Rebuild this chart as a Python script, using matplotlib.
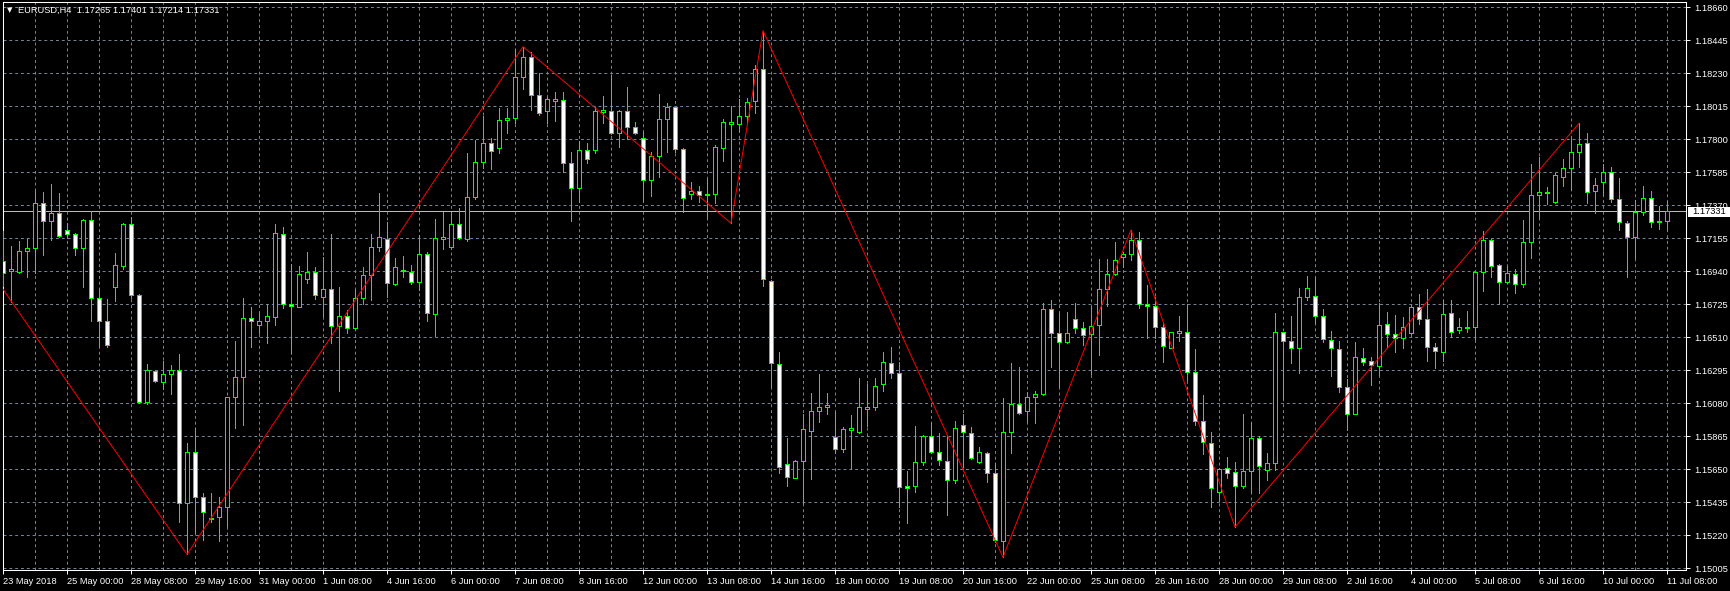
"""EURUSD H4 candlestick chart (MetaTrader look) with a zigzag overlay -> out.png"""
import numpy as np
import matplotlib
matplotlib.use("Agg")
import matplotlib.pyplot as plt
from matplotlib.patches import Rectangle

# OHLC of the 209 visible H4 bars
OPEN = [1.17010, 1.16940, 1.16938, 1.17070, 1.17090, 1.17383, 1.17268, 1.17318, 1.17207, 1.17181,
        1.17090, 1.17275, 1.16764, 1.16617, 1.16840, 1.16977, 1.17246, 1.16784, 1.16091, 1.16291,
        1.16221, 1.16269, 1.16295, 1.15429, 1.15761, 1.15472, 1.15327, 1.15342, 1.15403, 1.16119,
        1.16249, 1.16634, 1.16588, 1.16619, 1.16645, 1.17181, 1.16725, 1.16710, 1.16888, 1.16938,
        1.16775, 1.16823, 1.16582, 1.16651, 1.16569, 1.16764, 1.16914, 1.17096, 1.17153, 1.16855,
        1.16940, 1.16938, 1.16868, 1.17051, 1.16660, 1.17153, 1.17101, 1.17246, 1.17149, 1.17427,
        1.17654, 1.17774, 1.17741, 1.17926, 1.17937, 1.18204, 1.18334, 1.18087, 1.17987, 1.18052,
        1.18056, 1.17644, 1.17485, 1.17728, 1.17728, 1.17976, 1.17985, 1.17839, 1.17985, 1.17883,
        1.17807, 1.17533, 1.17691, 1.17930, 1.18009, 1.17735, 1.17442, 1.17461, 1.17435, 1.17442,
        1.17741, 1.17902, 1.17900, 1.17954, 1.18048, 1.18256, 1.16879, 1.16334, 1.15683, 1.15596,
        1.15707, 1.15902, 1.16032, 1.16054, 1.15859, 1.15780, 1.15904, 1.15896, 1.16045, 1.16054,
        1.16206, 1.16341, 1.16276, 1.15544, 1.15539, 1.15700, 1.15867, 1.15761, 1.15707, 1.15581,
        1.15939, 1.15889, 1.15696, 1.15759, 1.15624, 1.15183, 1.15891, 1.16074, 1.16028, 1.16119,
        1.16139, 1.16693, 1.16536, 1.16478, 1.16627, 1.16569, 1.16530, 1.16588, 1.16823, 1.16921,
        1.17031, 1.17051, 1.17144, 1.16727, 1.16714, 1.16575, 1.16443, 1.16540, 1.16547, 1.16282,
        1.15967, 1.15824, 1.15500, 1.15656, 1.15631, 1.15544, 1.15641, 1.15856, 1.15645, 1.15694,
        1.16543, 1.16488, 1.16438, 1.16775, 1.16782, 1.16651, 1.16493, 1.16432, 1.16189, 1.16013,
        1.16378, 1.16356, 1.16326, 1.16595, 1.16530, 1.16504, 1.16536, 1.16706, 1.16627, 1.16449,
        1.16417, 1.16666, 1.16556, 1.16571, 1.16575, 1.16934, 1.17144, 1.16979, 1.16873, 1.16921,
        1.16855, 1.17129, 1.17435, 1.17448, 1.17390, 1.17557, 1.17611, 1.17715, 1.17774, 1.17466,
        1.17525, 1.17590, 1.17409, 1.17253, 1.17166, 1.17324, 1.17416, 1.17262, 1.17265]
HIGH = [1.17203, 1.17105, 1.17138, 1.17149, 1.17464, 1.17457, 1.17509, 1.17450, 1.17257, 1.17188,
        1.17283, 1.17335, 1.16818, 1.16758, 1.17057, 1.17253, 1.17292, 1.16792, 1.16336, 1.16297,
        1.16356, 1.16328, 1.16399, 1.15819, 1.15919, 1.15498, 1.15498, 1.15472, 1.16124, 1.16486,
        1.16764, 1.16706, 1.16671, 1.16727, 1.17248, 1.17231, 1.16986, 1.16975, 1.17064, 1.16970,
        1.17031, 1.17181, 1.16836, 1.16688, 1.16818, 1.16970, 1.17181, 1.17448, 1.17259, 1.17025,
        1.17040, 1.16979, 1.17175, 1.17064, 1.17281, 1.17329, 1.17329, 1.17351, 1.17709, 1.17796,
        1.17954, 1.17807, 1.18002, 1.18002, 1.18386, 1.18404, 1.18371, 1.18230, 1.18078, 1.18106,
        1.18106, 1.17715, 1.17791, 1.17778, 1.18009, 1.18082, 1.18219, 1.17991, 1.18143, 1.17915,
        1.17850, 1.17720, 1.18093, 1.18035, 1.18013, 1.17741, 1.17524, 1.17496, 1.17542, 1.17763,
        1.17930, 1.18017, 1.18063, 1.18067, 1.18284, 1.18508, 1.16884, 1.16412, 1.15852, 1.15711,
        1.16008, 1.16150, 1.16271, 1.16150, 1.16024, 1.15929, 1.16002, 1.16243, 1.16206, 1.16243,
        1.16417, 1.16445, 1.16352, 1.15639, 1.15931, 1.15874, 1.15961, 1.15885, 1.15874, 1.15967,
        1.16013, 1.15926, 1.15798, 1.15765, 1.15689, 1.16113, 1.16341, 1.16317, 1.16154, 1.16163,
        1.16736, 1.16753, 1.16671, 1.16673, 1.16732, 1.16612, 1.16706, 1.17020, 1.17020, 1.17129,
        1.17068, 1.17209, 1.17194, 1.16851, 1.16775, 1.16612, 1.16547, 1.16649, 1.16727, 1.16434,
        1.16134, 1.15896, 1.15656, 1.15728, 1.15700, 1.16008, 1.15961, 1.15867, 1.15759, 1.16666,
        1.16547, 1.16649, 1.16829, 1.16910, 1.16901, 1.16693, 1.16551, 1.16486, 1.16239, 1.16478,
        1.16438, 1.16384, 1.16736, 1.16673, 1.16656, 1.16645, 1.16721, 1.16792, 1.16823, 1.16471,
        1.16753, 1.16753, 1.16634, 1.16682, 1.16938, 1.17203, 1.17149, 1.16986, 1.16975, 1.16953,
        1.17275, 1.17639, 1.17683, 1.17492, 1.17583, 1.17670, 1.17807, 1.17904, 1.17839, 1.17546,
        1.17637, 1.17618, 1.17546, 1.17268, 1.17405, 1.17496, 1.17463, 1.17366, 1.17401]
LOW = [1.16844, 1.16742, 1.16931, 1.16905, 1.16927, 1.17046, 1.17144, 1.17166, 1.17159, 1.17046,
       1.16840, 1.16619, 1.16456, 1.16445, 1.16749, 1.16953, 1.16768, 1.16080, 1.16074, 1.16221,
       1.16173, 1.16139, 1.15305, 1.15096, 1.15233, 1.15188, 1.15309, 1.15181, 1.15281, 1.15917,
       1.15939, 1.16449, 1.16536, 1.16475, 1.16588, 1.16699, 1.16406, 1.16706, 1.16862, 1.16758,
       1.16651, 1.16471, 1.16163, 1.16536, 1.16564, 1.16727, 1.16753, 1.17075, 1.16771, 1.16851,
       1.16901, 1.16858, 1.16818, 1.16619, 1.16521, 1.17083, 1.17083, 1.17149, 1.17140, 1.17414,
       1.17615, 1.17607, 1.17713, 1.17839, 1.17904, 1.18126, 1.17991, 1.17959, 1.17904, 1.17922,
       1.17585, 1.17270, 1.17394, 1.17648, 1.17709, 1.17904, 1.17835, 1.17752, 1.17802, 1.17835,
       1.17398, 1.17431, 1.17557, 1.17720, 1.17720, 1.17329, 1.17409, 1.17394, 1.17285, 1.17387,
       1.17661, 1.17253, 1.17857, 1.17898, 1.17974, 1.16844, 1.16184, 1.15624, 1.15544, 1.15591,
       1.15429, 1.15587, 1.15961, 1.16008, 1.15759, 1.15761, 1.15650, 1.15889, 1.15931, 1.16034,
       1.16163, 1.16243, 1.15403, 1.15300, 1.15505, 1.15678, 1.15754, 1.15678, 1.15353, 1.15559,
       1.15667, 1.15715, 1.15689, 1.15570, 1.15179, 1.15077, 1.15754, 1.16013, 1.15967, 1.15950,
       1.16134, 1.16319, 1.16189, 1.16471, 1.16536, 1.16460, 1.16271, 1.16395, 1.16714, 1.16916,
       1.16970, 1.17014, 1.16699, 1.16504, 1.16504, 1.16347, 1.16438, 1.16488, 1.16232, 1.15939,
       1.15750, 1.15403, 1.15444, 1.15591, 1.15274, 1.15528, 1.15505, 1.15498, 1.15581, 1.15645,
       1.16106, 1.16345, 1.16276, 1.16753, 1.16601, 1.16482, 1.16260, 1.16154, 1.15906, 1.16008,
       1.16330, 1.16200, 1.16265, 1.16449, 1.16417, 1.16438, 1.16532, 1.16597, 1.16358, 1.16308,
       1.16356, 1.16514, 1.16536, 1.16547, 1.16497, 1.16814, 1.16905, 1.16727, 1.16862, 1.16797,
       1.16836, 1.17025, 1.17285, 1.17376, 1.17383, 1.17498, 1.17471, 1.17618, 1.17387, 1.17318,
       1.17437, 1.17394, 1.17207, 1.16901, 1.17029, 1.17304, 1.17231, 1.17218, 1.17214]
CLOSE = [1.16931, 1.16953, 1.17073, 1.17090, 1.17383, 1.17268, 1.17318, 1.17170, 1.17183, 1.17090,
         1.17275, 1.16764, 1.16617, 1.16458, 1.16981, 1.17246, 1.16784, 1.16091, 1.16295, 1.16226,
         1.16271, 1.16295, 1.15429, 1.15765, 1.15468, 1.15374, 1.15335, 1.15403, 1.16119, 1.16249,
         1.16634, 1.16617, 1.16619, 1.16651, 1.17188, 1.16725, 1.16714, 1.16921, 1.16938, 1.16784,
         1.16823, 1.16582, 1.16651, 1.16569, 1.16764, 1.16914, 1.17101, 1.17162, 1.16862, 1.16966,
         1.16949, 1.16868, 1.17051, 1.16666, 1.17155, 1.17162, 1.17246, 1.17155, 1.17427, 1.17654,
         1.17774, 1.17724, 1.17926, 1.17937, 1.18208, 1.18334, 1.18087, 1.17969, 1.18061, 1.18061,
         1.17644, 1.17481, 1.17728, 1.17670, 1.17985, 1.17991, 1.17839, 1.17985, 1.17883, 1.17839,
         1.17533, 1.17691, 1.17930, 1.18009, 1.17735, 1.17419, 1.17461, 1.17437, 1.17444, 1.17748,
         1.17911, 1.17911, 1.17950, 1.18041, 1.18256, 1.16888, 1.16341, 1.15663, 1.15598, 1.15707,
         1.15911, 1.16032, 1.16054, 1.16069, 1.15780, 1.15911, 1.15917, 1.16054, 1.16058, 1.16195,
         1.16347, 1.16276, 1.15533, 1.15528, 1.15700, 1.15867, 1.15761, 1.15711, 1.15581, 1.15920,
         1.15891, 1.15722, 1.15765, 1.15624, 1.15192, 1.15891, 1.16074, 1.16019, 1.16119, 1.16139,
         1.16693, 1.16540, 1.16478, 1.16536, 1.16569, 1.16525, 1.16586, 1.16823, 1.16921, 1.17014,
         1.17051, 1.17144, 1.16727, 1.16714, 1.16580, 1.16456, 1.16543, 1.16549, 1.16282, 1.15967,
         1.15830, 1.15528, 1.15650, 1.15624, 1.15544, 1.15641, 1.15856, 1.15672, 1.15694, 1.16547,
         1.16486, 1.16438, 1.16771, 1.16829, 1.16649, 1.16497, 1.16438, 1.16189, 1.16013, 1.16380,
         1.16347, 1.16330, 1.16588, 1.16532, 1.16504, 1.16575, 1.16706, 1.16627, 1.16445, 1.16421,
         1.16662, 1.16547, 1.16575, 1.16575, 1.16934, 1.17144, 1.16977, 1.16873, 1.16927, 1.16855,
         1.17129, 1.17435, 1.17455, 1.17455, 1.17567, 1.17611, 1.17715, 1.17769, 1.17459, 1.17500,
         1.17585, 1.17409, 1.17259, 1.17162, 1.17324, 1.17419, 1.17259, 1.17266, 1.17331]

# zigzag vertices (bar index, price); the first one is where the line enters at the left edge
ZZ_BAR = [0, 23, 65, 91, 95, 125, 141, 154, 197]
ZZ_PRICE = [1.16823, 1.15096, 1.18404, 1.17253, 1.18508, 1.15077, 1.17209, 1.15274, 1.17904]

PRICE_TICKS = [1.15005, 1.15220, 1.15435, 1.15650, 1.15865, 1.16080, 1.16295, 1.16510, 1.16725,
               1.16940, 1.17155, 1.17370, 1.17585, 1.17800, 1.18015, 1.18230, 1.18445, 1.18660]
DATE_LABELS = ["23 May 2018", "25 May 00:00", "28 May 08:00", "29 May 16:00", "31 May 00:00",
               "1 Jun 08:00", "4 Jun 16:00", "6 Jun 00:00", "7 Jun 08:00", "8 Jun 16:00",
               "12 Jun 00:00", "13 Jun 08:00", "14 Jun 16:00", "18 Jun 00:00", "19 Jun 08:00",
               "20 Jun 16:00", "22 Jun 00:00", "25 Jun 08:00", "26 Jun 16:00", "28 Jun 00:00",
               "29 Jun 08:00", "2 Jul 16:00", "4 Jul 00:00", "5 Jul 08:00", "6 Jul 16:00",
               "10 Jul 00:00", "11 Jul 08:00"]
LAST_PRICE = 1.17331
TITLE = "EURUSD,H4  1.17265 1.17401 1.17214 1.17331"

LIME, GRID = "#00ff00", "#778899"
plt.rcParams["font.family"] = ["Liberation Sans", "DejaVu Sans"]
FS = 6.7

W, H = 1730, 591
fig = plt.figure(figsize=(W / 100, H / 100), dpi=100, facecolor="black")
ax = fig.add_axes([3 / W, 21 / H, 1683 / W, 568 / H], facecolor="black")

o, h, l, c = map(np.array, (OPEN, HIGH, LOW, CLOSE))
x = np.arange(len(o))
up = c >= o
# 1 px wide strokes, no smoothing, like the terminal draws them
ax.vlines(x, l, h, color=LIME, lw=0.6, zorder=3, antialiased=False)
ax.bar(x, np.abs(c - o), width=0.5, bottom=np.minimum(o, c),
       color=np.where(up, "black", "white"), edgecolor=LIME, linewidth=0.6, zorder=4,
       antialiased=False)
ax.plot(ZZ_BAR, ZZ_PRICE, color="#ff0000", lw=0.7, zorder=5)
ax.axhline(LAST_PRICE, color="#c0c0c0", lw=0.7, zorder=2)

ax.set_xlim(0, 1683 / 8)
ax.set_ylim(1.149941, 1.186947)

major = np.arange(0, len(o), 8)
ax.set_xticks(major)
ax.set_xticklabels(DATE_LABELS, ha="left")
ax.set_xticks(np.arange(4, 211, 8), minor=True)
ax.yaxis.tick_right()
ax.set_yticks(PRICE_TICKS)
ax.set_yticklabels([f"{p:.5f}" for p in PRICE_TICKS])
ax.tick_params(axis="both", colors="white", labelsize=FS, length=3, width=0.7)
ax.tick_params(axis="x", pad=2)
ax.tick_params(axis="y", pad=3)
ax.tick_params(which="minor", length=0)
ax.grid(which="both", color=GRID, linestyle=(0, (3, 3)), linewidth=0.7)
ax.set_axisbelow(True)
for s in ax.spines.values():
    s.set_color("white")
    s.set_linewidth(0.75)

# last-price tag on the price scale
fig.add_artist(Rectangle((1688 / W, 1 - 217 / H), 42 / W, 10.5 / H, transform=fig.transFigure,
                         facecolor="white", edgecolor="none", zorder=5))
fig.text(1692 / W, 1 - 211.8 / H, f"{LAST_PRICE:.5f}", color="black", fontsize=FS,
         va="center", ha="left", zorder=6)

fig.text(7 / W, 1 - 10 / H, "\u25bc", color="white", fontsize=5, va="center", ha="left",
         family=["DejaVu Sans"])
fig.text(18 / W, 1 - 10 / H, TITLE, color="white", fontsize=FS, va="center", ha="left")

fig.savefig("out.png", dpi=100, facecolor="black")
